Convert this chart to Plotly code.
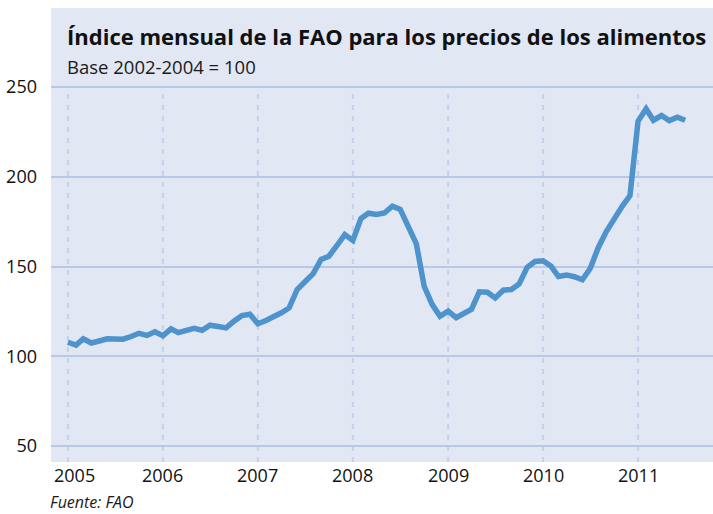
import pandas as pd
import plotly.graph_objects as go

# ---- data ----
start_month = "2005-01-01"
index_values = [
    # 2005
    107.8, 106.2, 109.7, 107.4, 108.5, 109.7, 109.6, 109.5, 111.0, 112.8, 111.6, 113.6,
    # 2006
    111.4, 115.3, 113.2, 114.5, 115.5, 114.5, 117.3, 116.6, 115.8, 119.5, 122.7, 123.4,
    # 2007
    118.1, 119.9, 121.6, 124.2, 126.9, 137.2, 141.5, 145.9, 153.9, 155.7, 161.7, 167.8,
    # 2008
    164.5, 176.7, 179.7, 179.0, 179.8, 183.6, 181.8, 172.0, 162.6, 139.0, 128.8, 122.3,
    # 2009
    125.1, 121.5, 124.0, 126.2, 135.9, 135.7, 132.5, 136.8, 137.2, 140.3, 149.5, 152.8,
    # 2010
    153.2, 150.1, 144.4, 145.3, 144.3, 142.6, 148.9, 160.5, 169.5, 177.0, 183.5, 189.5,
    # 2011
    231.0, 237.8, 231.5, 234.1, 231.3, 233.2, 231.5,
]
months = pd.date_range(start_month, periods=len(index_values), freq="MS")

year_ticks = [2005, 2006, 2007, 2008, 2009, 2010, 2011]
year_labels = ["2005", "2006", "2007", "2008", "2009", "2010", "2011"]
y_ticks = [50, 100, 150, 200, 250]
y_labels = ["50", "100", "150", "200", "250"]

title_text = "Índice mensual de la FAO para los precios de los alimentos"
subtitle_text = "Base 2002-2004 = 100"
source_text = "Fuente: FAO"

# ---- style ----
FONT = "Open Sans"
PANEL = "#e1e7f3"
GRID = "#b6c9e7"
DASH = "#c3d2ea"
LINE = "#4f93cc"

W, H = 713, 514
L, R, T, B = 51, 0, 8, 52
X_RANGE = ["2004-10-28", "2011-10-16"]
Y_RANGE = [41.1, 294.0]
plot_h = H - T - B


def py(p):
    """pixel row -> paper y"""
    return (H - B - p) / plot_h


fig = go.Figure()
fig.add_trace(go.Scatter(
    x=months, y=index_values, mode="lines",
    line=dict(color=LINE, width=5.5, shape="linear"),
    hoverinfo="x+y", showlegend=False,
))

shapes = []
for yr in year_ticks:
    shapes.append(dict(
        type="line", xref="x", yref="y",
        x0=f"{yr}-01-01", x1=f"{yr}-01-01", y0=Y_RANGE[0], y1=max(y_ticks),
        line=dict(color=DASH, width=2, dash="5px,6px"), layer="below",
    ))

annotations = [
    dict(text=f"<b>{title_text}</b>", xref="x", yref="paper", x=f"{year_ticks[0]}-01-01",
         y=py(36), xanchor="left", yanchor="middle", showarrow=False, xshift=-3,
         font=dict(family=FONT, size=22, color="#111111")),
    dict(text=subtitle_text, xref="x", yref="paper", x=f"{year_ticks[0]}-01-01",
         y=py(66), xanchor="left", yanchor="middle", showarrow=False, xshift=-3,
         font=dict(family=FONT, size=18.5, color="#1a1a1a")),
    dict(text=f"<i>{source_text}</i>", xref="paper", yref="paper", x=-2 / (W - L - R),
         y=py(502), xanchor="left", yanchor="middle", showarrow=False, borderpad=0,
         font=dict(family=FONT, size=16, color="#1a1a1a")),
]
for i, (yr, lab) in enumerate(zip(year_ticks, year_labels)):
    annotations.append(dict(
        text=lab, xref="x", yref="paper", x=f"{yr}-01-01", y=py(475),
        xanchor="center", yanchor="middle", showarrow=False,
        xshift=7 if i == 0 else 0,
        font=dict(family=FONT, size=18, color="#111111"),
    ))

fig.update_layout(
    width=W, height=H,
    margin=dict(l=L, r=R, t=T, b=B, pad=0),
    paper_bgcolor="white", plot_bgcolor=PANEL,
    shapes=shapes, annotations=annotations,
    font=dict(family=FONT, size=18, color="#111111"),
    xaxis=dict(
        type="date", range=X_RANGE, showgrid=False, zeroline=False,
        showticklabels=False, ticks="", showline=False,
    ),
    yaxis=dict(
        range=Y_RANGE, tickvals=y_ticks, ticktext=y_labels,
        showgrid=True, gridcolor=GRID, gridwidth=1.5, zeroline=False,
        ticks="", showline=False, ticklabelstandoff=13,
        tickfont=dict(family=FONT, size=18, color="#111111"),
    ),
)

fig.write_html(
    "out.html",
    config={"displayModeBar": False},
    post_script="document.body.style.margin='0';document.body.style.padding='0';",
)
